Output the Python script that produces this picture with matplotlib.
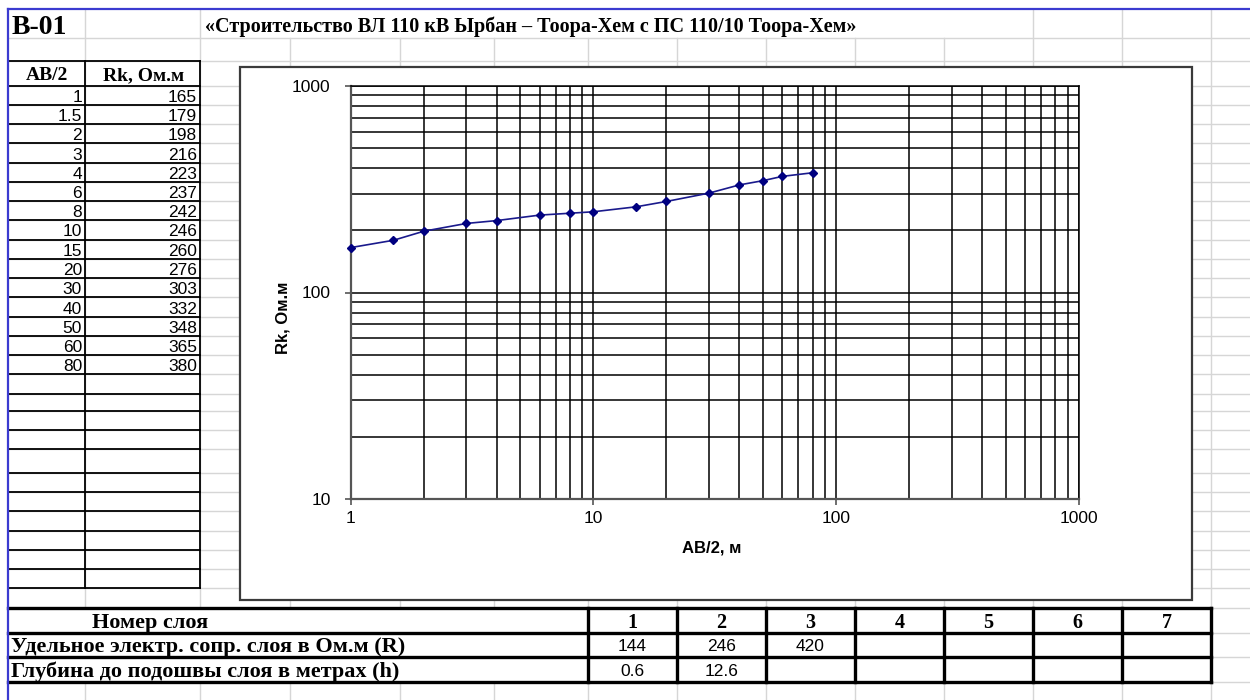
import matplotlib
matplotlib.use("Agg")
import matplotlib.pyplot as plt
from matplotlib.patches import Rectangle
from matplotlib.ticker import FixedLocator, FixedFormatter

plt.rcParams["font.family"] = ["Liberation Sans", "DejaVu Sans"]

# ---- sounding data ----
ab2 = [1, 1.5, 2, 3, 4, 6, 8, 10, 15, 20, 30, 40, 50, 60, 80]
rk = [165, 179, 198, 216, 223, 237, 242, 246, 260, 276, 303, 332, 348, 365, 380]

# ---- layer interpretation ----
layer_no = [1, 2, 3, 4, 5, 6, 7]
layer_r = [144, 246, 420]
layer_h = [0.6, 12.6]

sheet_id = "B-01"
title = "«Строительство ВЛ 110 кВ Ырбан – Тоора-Хем с ПС 110/10 Тоора-Хем»"
col_head = ["AB/2", "Rk, Ом.м"]
row_head = ["Номер слоя",
            "Удельное электр. сопр. слоя в Ом.м (R)",
            "Глубина до подошвы слоя в метрах (h)"]
x_ticks = [1, 10, 100, 1000]
y_ticks = [10, 100, 1000]

# ---- sheet geometry (pixels) ----
W, H = 1250, 700
col_x = [8, 85, 200, 290, 400, 494, 588, 677, 766, 855, 944, 1033, 1122, 1211]
row_y = [9, 38, 61, 85.5] + [85.5 + 19.25 * k for k in range(1, 17)] + \
        [411, 430, 449, 473, 492, 511, 531, 550, 569, 588, 608, 633, 657, 682]

SERIF = "Liberation Serif"
GRID = "#d6d6d6"

fig = plt.figure(figsize=(W / 100, H / 100), dpi=100)
bg = fig.add_axes([0, 0, 1, 1])
bg.set_xlim(0, W)
bg.set_ylim(H, 0)
bg.axis("off")

# spreadsheet gridlines
for x in col_x[1:]:
    y0 = 38 if 200 < x < 1033 else 9
    if x < 1211:
        bg.plot([x, x], [y0, 608], color=GRID, lw=1, zorder=1)
        bg.plot([x, x], [682, H], color=GRID, lw=1, zorder=1)
    else:
        bg.plot([x, x], [y0, H], color=GRID, lw=1, zorder=1)
for y in row_y[1:]:
    bg.plot([8, W], [y, y], color=GRID, lw=1, zorder=1)

# data table borders
t_top, t_bot = 61, 588
for y in row_y:
    if t_top <= y <= t_bot:
        bg.plot([8, 200], [y, y], color="black", lw=1.3, zorder=3)
for x in (85, 200):
    bg.plot([x, x], [t_top, t_bot], color="black", lw=1.3, zorder=3)

# chart frame
bg.add_patch(Rectangle((240, 67), 952, 533, facecolor="white",
                       edgecolor="#3a3a3a", lw=1.6, zorder=2))

# layer table borders
lt = [608, 633, 657, 682]
for y in lt:
    bg.plot([8, 1211], [y, y], color="black", lw=2.4, zorder=3,
            solid_capstyle="projecting")
for x in col_x[6:]:
    bg.plot([x, x], [608, 682], color="black", lw=2.4, zorder=3,
            solid_capstyle="projecting")

# sheet frame (blue)
bg.plot([8, W], [9, 9], color="#3b3bd0", lw=1.6, zorder=4)
bg.plot([8, 8], [9, H], color="#3b3bd0", lw=1.6, zorder=4)

# headings
bg.text(12, 34, sheet_id, family=SERIF, fontweight="bold", fontsize=20,
        va="baseline", ha="left", zorder=5)
bg.text(205, 32, title, family=SERIF, fontweight="bold", fontsize=14.5,
        va="baseline", ha="left", zorder=5)
bg.text(46.5, 80, col_head[0], family=SERIF, fontweight="bold", fontsize=14,
        va="baseline", ha="center", zorder=5)
bg.text(144, 80, col_head[1], family=SERIF, fontweight="bold", fontsize=14,
        va="baseline", ha="center", zorder=5)

# data table values
for k, (a, r) in enumerate(zip(ab2, rk)):
    yb = row_y[3 + k + 1] - 3
    bg.text(82, yb, f"{a:g}", fontsize=12.5, ha="right", va="baseline", zorder=5)
    bg.text(197, yb, f"{r:g}", fontsize=12.5, ha="right", va="baseline", zorder=5)

# layer table
bg.text(150, 628, row_head[0], family=SERIF, fontweight="bold", fontsize=16,
        ha="center", va="baseline", zorder=5)
bg.text(11, 652, row_head[1], family=SERIF, fontweight="bold", fontsize=16,
        ha="left", va="baseline", zorder=5)
bg.text(11, 677, row_head[2], family=SERIF, fontweight="bold", fontsize=16,
        ha="left", va="baseline", zorder=5)
centers = [(col_x[i] + col_x[i + 1]) / 2 for i in range(6, 13)]
for c, n in zip(centers, layer_no):
    bg.text(c, 628, str(n), family=SERIF, fontweight="bold", fontsize=14.5,
            ha="center", va="baseline", zorder=5)
for c, v in zip(centers, layer_r):
    bg.text(c, 651, f"{v:g}", fontsize=12.5, ha="center", va="baseline", zorder=5)
for c, v in zip(centers, layer_h):
    bg.text(c, 676, f"{v:g}", fontsize=12.5, ha="center", va="baseline", zorder=5)

# ---- VES curve ----
px0, px1, py0, py1 = 350.7, 1078.7, 86, 499
ax = fig.add_axes([px0 / W, 1 - py1 / H, (px1 - px0) / W, (py1 - py0) / H])
ax.set_zorder(6)
ax.set_xscale("log")
ax.set_yscale("log")
ax.set_xlim(x_ticks[0], x_ticks[-1])
ax.set_ylim(y_ticks[0], y_ticks[-1])
ax.patch.set_alpha(0)
ax.grid(True, which="both", color="black", lw=1.1)
ax.set_axisbelow(True)

ax.xaxis.set_major_locator(FixedLocator(x_ticks))
ax.xaxis.set_major_formatter(FixedFormatter([str(t) for t in x_ticks]))
ax.yaxis.set_major_locator(FixedLocator(y_ticks))
ax.yaxis.set_major_formatter(FixedFormatter([str(t) for t in y_ticks]))
ax.tick_params(which="major", length=4.5, width=1.2, color="#555555",
               labelsize=12.5, pad=4)
ax.tick_params(axis="y", pad=10)
ax.tick_params(which="minor", length=0)
for s in ("left", "bottom"):
    ax.spines[s].set_color("#555555")
    ax.spines[s].set_linewidth(1.6)
for s in ("top", "right"):
    ax.spines[s].set_color("black")
    ax.spines[s].set_linewidth(1.1)

ax.plot(ab2, rk, color="#1a1a8c", lw=1.2, marker="D", markersize=4.5,
        markerfacecolor="#000080", markeredgecolor="#000080", zorder=5,
        clip_on=False)

fig.text(283 / W, 1 - 318 / H, "Rk, Ом.м", rotation=90, fontweight="bold",
         fontsize=12, ha="center", va="center", zorder=7)
fig.text(712 / W, 1 - 548 / H, "AB/2, м", fontweight="bold", fontsize=12,
         ha="center", va="center", zorder=7)

fig.savefig("out.png", dpi=100)
